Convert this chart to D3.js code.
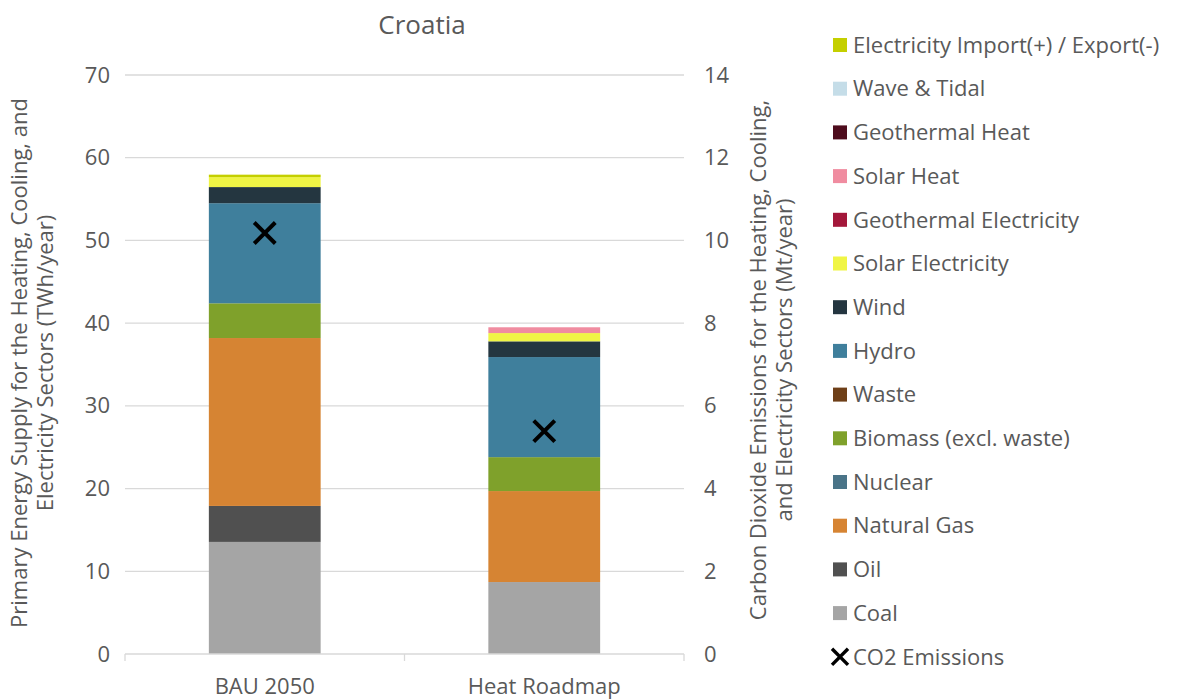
<!DOCTYPE html>
<html>
<head>
<meta charset="utf-8">
<script src="https://cdn.jsdelivr.net/npm/d3@7"></script>
<style>
  body { margin: 0; background: #fff; }
  svg text { font-family: "Open Sans", sans-serif; fill: #595959; }
</style>
</head>
<body>
<div id="chart"></div>
<script>
var width = 1182, height = 700;

// scenarios
var scenarios = ["BAU 2050", "Heat Roadmap"];

// stack order, bottom to top
var sources = ["Coal", "Oil", "Natural Gas", "Nuclear", "Biomass (excl. waste)", "Waste", "Hydro", "Wind",
    "Solar Electricity", "Geothermal Electricity", "Solar Heat", "Geothermal Heat", "Wave & Tidal",
    "Electricity Import(+) / Export(-)"];

var colors = ["#a5a5a5", "#505050", "#d68433", "#4a7488", "#7fa12b", "#6e3f18", "#3f7f9c", "#243640",
    "#f0f545", "#a3173a", "#f08ca0", "#4e0c1d", "#c5dde8", "#c4cf00"];

// TWh/year per source, same order as sources
var bau2050 = [13.55, 4.35, 20.3, 0, 4.2, 0, 12.1, 1.95, 1.2, 0, 0, 0, 0, 0.3];
var heatRoadmap = [8.7, 0, 11.0, 0, 4.1, 0, 12.1, 1.9, 1.0, 0, 0.7, 0, 0, 0];

// Mt/year
var co2 = [10.18, 5.39];

var leftTicks = [0, 10, 20, 30, 40, 50, 60, 70];
var rightTicks = [0, 2, 4, 6, 8, 10, 12, 14];

var margin = {left: 125, right: 684, top: 75, bottom: 654};
var fontSize = "22px";

var svg = d3.select("#chart").append("svg")
    .attr("width", width)
    .attr("height", height);

var x = d3.scaleBand()
    .domain(scenarios)
    .range([margin.left, margin.right])
    .paddingInner(0.6)
    .paddingOuter(0.3);

var y = d3.scaleLinear().domain([0, 70]).range([margin.bottom, margin.top]);
var y2 = d3.scaleLinear().domain([0, 14]).range([margin.bottom, margin.top]);

// gridlines
svg.append("g")
    .selectAll("line")
    .data(leftTicks.slice(1))
    .enter().append("line")
    .attr("x1", margin.left)
    .attr("x2", margin.right)
    .attr("y1", function (d) { return y(d); })
    .attr("y2", function (d) { return y(d); })
    .style("stroke", "#d9d9d9")
    .style("stroke-width", 1.3);

// stacked bars
var rows = scenarios.map(function (s, i) {
    var r = {scenario: s};
    var vals = i === 0 ? bau2050 : heatRoadmap;
    sources.forEach(function (src, j) { r[src] = vals[j]; });
    return r;
});

var stack = d3.stack().keys(sources);
var color = d3.scaleOrdinal().domain(sources).range(colors);

svg.append("g")
    .selectAll("g")
    .data(stack(rows))
    .enter().append("g")
    .style("fill", function (d) { return color(d.key); })
    .selectAll("rect")
    .data(function (d) { return d; })
    .enter().append("rect")
    .attr("x", function (d) { return x(d.data.scenario); })
    .attr("width", x.bandwidth())
    .attr("y", function (d) { return y(d[1]); })
    .attr("height", function (d) { return y(d[0]) - y(d[1]); });

// bottom axis
var xAxis = svg.append("g")
    .attr("transform", "translate(0," + margin.bottom + ")")
    .call(d3.axisBottom(x).tickSize(0).tickPadding(24));
xAxis.select(".domain").remove();
xAxis.selectAll("text").style("font-size", fontSize);
xAxis.append("line")
    .attr("x1", margin.left).attr("x2", margin.right)
    .style("stroke", "#d9d9d9").style("stroke-width", 1.3);
xAxis.selectAll(".sep")
    .data([margin.left, (margin.left + margin.right) / 2, margin.right])
    .enter().append("line")
    .attr("x1", function (d) { return d; })
    .attr("x2", function (d) { return d; })
    .attr("y1", 0).attr("y2", 7)
    .style("stroke", "#d9d9d9").style("stroke-width", 1.3);

// left axis
var yAxis = svg.append("g")
    .attr("transform", "translate(" + margin.left + ",0)")
    .call(d3.axisLeft(y).tickValues(leftTicks).tickSize(0).tickPadding(15));
yAxis.select(".domain").remove();
yAxis.selectAll("text").style("font-size", fontSize);

// right axis
var yAxis2 = svg.append("g")
    .attr("transform", "translate(" + margin.right + ",0)")
    .call(d3.axisRight(y2).tickValues(rightTicks).tickSize(0).tickPadding(20));
yAxis2.select(".domain").remove();
yAxis2.selectAll("text").style("font-size", fontSize);

// CO2 markers
var cross = d3.symbol().type(d3.symbolX).size(290);
svg.append("g")
    .selectAll("path")
    .data(co2)
    .enter().append("path")
    .attr("d", cross)
    .attr("transform", function (d, i) {
        return "translate(" + (x(scenarios[i]) + x.bandwidth() / 2) + "," + y2(d) + ")";
    })
    .style("fill", "none")
    .style("stroke", "#000")
    .style("stroke-width", 4);

// title
svg.append("text")
    .attr("x", 422).attr("y", 34)
    .attr("text-anchor", "middle")
    .style("font-size", "26px")
    .text("Croatia");

// axis titles
var lt = svg.append("text")
    .attr("transform", "translate(27,363) rotate(-90)")
    .attr("text-anchor", "middle")
    .style("font-size", fontSize);
lt.append("tspan").attr("x", 0).attr("dy", 0).text("Primary Energy Supply for the Heating, Cooling, and");
lt.append("tspan").attr("x", 0).attr("dy", 26).text("Electricity Sectors (TWh/year)");

var rt = svg.append("text")
    .attr("transform", "translate(766,360) rotate(-90)")
    .attr("text-anchor", "middle")
    .style("font-size", fontSize);
rt.append("tspan").attr("x", 0).attr("dy", 0).text("Carbon Dioxide Emissions for the Heating, Cooling,");
rt.append("tspan").attr("x", 0).attr("dy", 26).text("and Electricity Sectors (Mt/year)");

// legend
var legendItems = sources.slice().reverse().concat(["CO2 Emissions"]);
var legend = svg.append("g")
    .selectAll("g")
    .data(legendItems)
    .enter().append("g")
    .attr("transform", function (d, i) { return "translate(833," + (45 + i * 43.7) + ")"; });

legend.filter(function (d) { return d !== "CO2 Emissions"; })
    .append("rect")
    .attr("x", 0).attr("y", -7)
    .attr("width", 14).attr("height", 14)
    .style("fill", function (d) { return color(d); });

legend.filter(function (d) { return d === "CO2 Emissions"; })
    .append("path")
    .attr("d", d3.symbol().type(d3.symbolX).size(170))
    .attr("transform", "translate(7,0)")
    .style("fill", "none")
    .style("stroke", "#000")
    .style("stroke-width", 3.4);

legend.append("text")
    .attr("x", 20).attr("y", 0)
    .attr("dy", "0.35em")
    .style("font-size", fontSize)
    .text(function (d) { return d; });
</script>
</body>
</html>
